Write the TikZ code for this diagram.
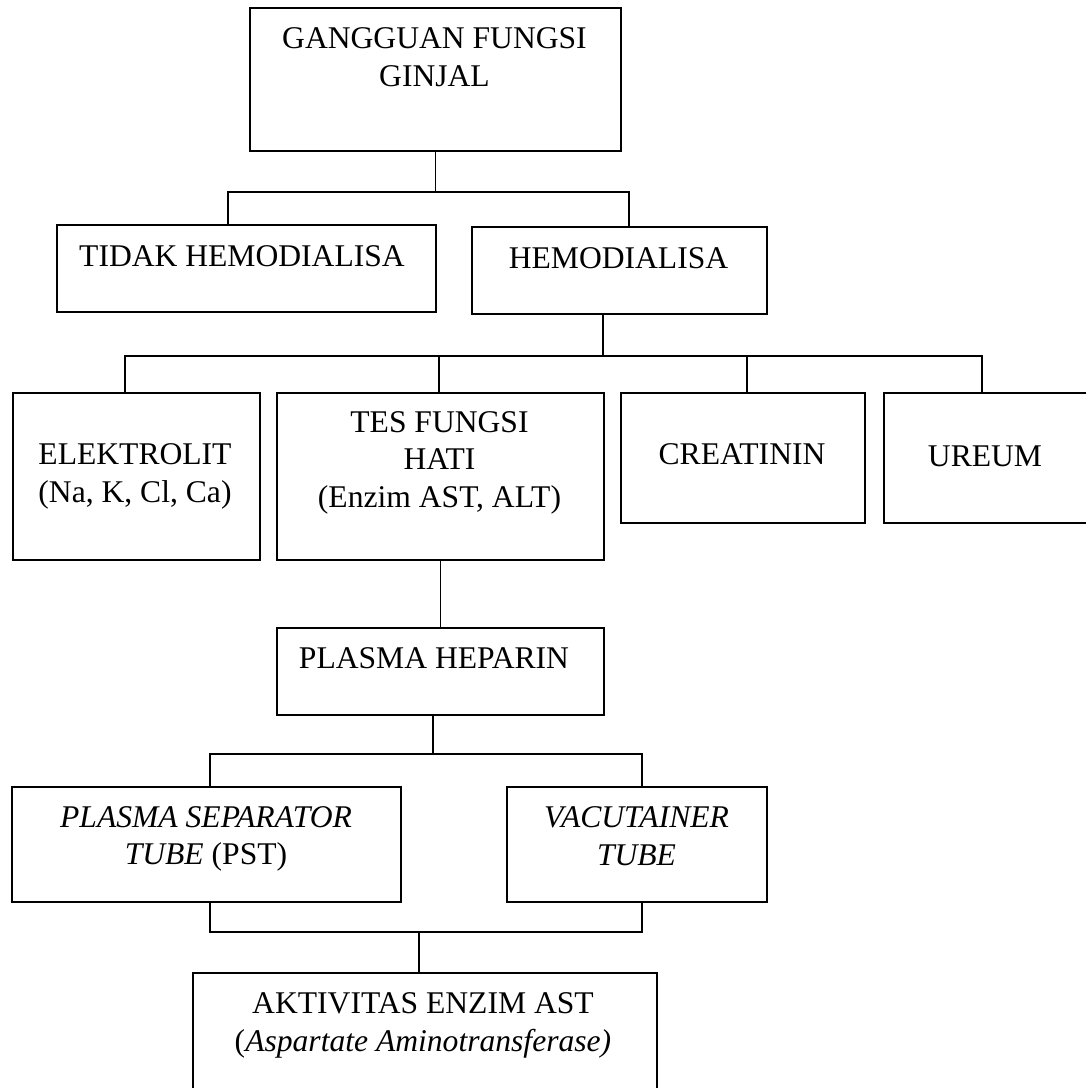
\documentclass[tikz,border=0pt]{standalone}
\usepackage{fontspec}
\setmainfont{Liberation Serif}
\begin{document}
\begin{tikzpicture}[x=1pt,y=-1pt,
  box/.style={draw=black, line width=1.6pt, inner sep=0pt, anchor=north west, fill=none},
  conn/.style={draw=black, line width=1.4pt},
  txt/.style={inner sep=0pt, anchor=base, font=\fontsize{31.6}{38}\selectfont}]
\fill[white] (0,0) rectangle (1086,1088);
\useasboundingbox (0,0) rectangle (1086,1088);
\clip (0,0) rectangle (1086,1088);
% boxes
\node[box, minimum width=371pt, minimum height=143pt] (top) at (249,7) {};
\node[box, minimum width=379pt, minimum height=87pt] (tidak) at (56,224) {};
\node[box, minimum width=295pt, minimum height=87pt] (hemo) at (471,226) {};
\node[box, minimum width=247pt, minimum height=167pt] (elek) at (12,392) {};
\node[box, minimum width=327pt, minimum height=167pt] (tes) at (276,392) {};
\node[box, minimum width=244pt, minimum height=130pt] (creat) at (620,392) {};
\node[box, minimum width=220pt, minimum height=130pt] (ureum) at (883,392) {};
\node[box, minimum width=327pt, minimum height=87pt] (ph) at (276,627) {};
\node[box, minimum width=389pt, minimum height=115pt] (pst) at (11,786) {};
\node[box, minimum width=260pt, minimum height=115pt] (vac) at (506,786) {};
\node[box, minimum width=464pt, minimum height=130pt] (akt) at (192,972) {};
% texts
\node[txt] (t1a) at (434.5,48) {GANGGUAN FUNGSI};
\node[txt] (t1b) at (434.5,86) {GINJAL};
\node[txt] (t2) at (242,266) {TIDAK HEMODIALISA};
\node[txt] (t3) at (618.5,268) {HEMODIALISA};
\node[txt] (t4a) at (135,464) {ELEKTROLIT};
\node[txt] (t4b) at (135,502) {(Na, K, Cl, Ca)};
\node[txt] (t5a) at (439.5,432) {TES FUNGSI};
\node[txt] (t5b) at (439.5,469) {HATI};
\node[txt] (t5c) at (439.5,507) {(Enzim AST, ALT)};
\node[txt] (t6) at (742,464) {CREATININ};
\node[txt] (t7) at (985,466) {UREUM};
\node[txt] (t8) at (434,668) {PLASMA HEPARIN};
\node[txt] (t9a) at (206,827) {\textit{PLASMA SEPARATOR}};
\node[txt] (t9b) at (206,864) {\textit{TUBE} (PST)};
\node[txt] (t10a) at (636.5,827) {\textit{VACUTAINER}};
\node[txt] (t10b) at (636.5,865) {\textit{TUBE}};
\node[txt] (t11a) at (423,1013) {AKTIVITAS ENZIM AST};
\node[txt] (t11b) at (423,1051) {(\textit{Aspartate Aminotransferase)}};
% junctions
\coordinate (j0L) at (228,192);
\coordinate (j0R) at (629,192);
\coordinate (j1) at (603,356);
\coordinate (j1a) at (125,356);
\coordinate (j1b) at (439,356);
\coordinate (j1c) at (747,356);
\coordinate (j1d) at (982,356);
\coordinate (j2) at (433,754);
\coordinate (j2a) at (210,754);
\coordinate (j2b) at (642,754);
\coordinate (j3) at (419,932);
\coordinate (j3a) at (210,932);
\coordinate (j3b) at (642,932);
% connectors
\draw[conn] (top.south) -- (top.south |- j0L);
\draw[conn] (tidak.north -| j0L) -- (j0L) -- (j0R) -- (hemo.north -| j0R);
\draw[conn] (hemo.south -| j1) -- (j1);
\draw[conn] (elek.north -| j1a) -- (j1a) -- (j1d) -- (ureum.north -| j1d);
\draw[conn] (tes.north -| j1b) -- (j1b);
\draw[conn] (creat.north -| j1c) -- (j1c);
\draw[conn] (tes.south) -- (ph.north);
\draw[conn] (ph.south -| j2) -- (j2);
\draw[conn] (pst.north -| j2a) -- (j2a) -- (j2b) -- (vac.north -| j2b);
\draw[conn] (pst.south -| j3a) -- (j3a) -- (j3b) -- (vac.south -| j3b);
\draw[conn] (j3) -- (akt.north -| j3);
\end{tikzpicture}
\end{document}
